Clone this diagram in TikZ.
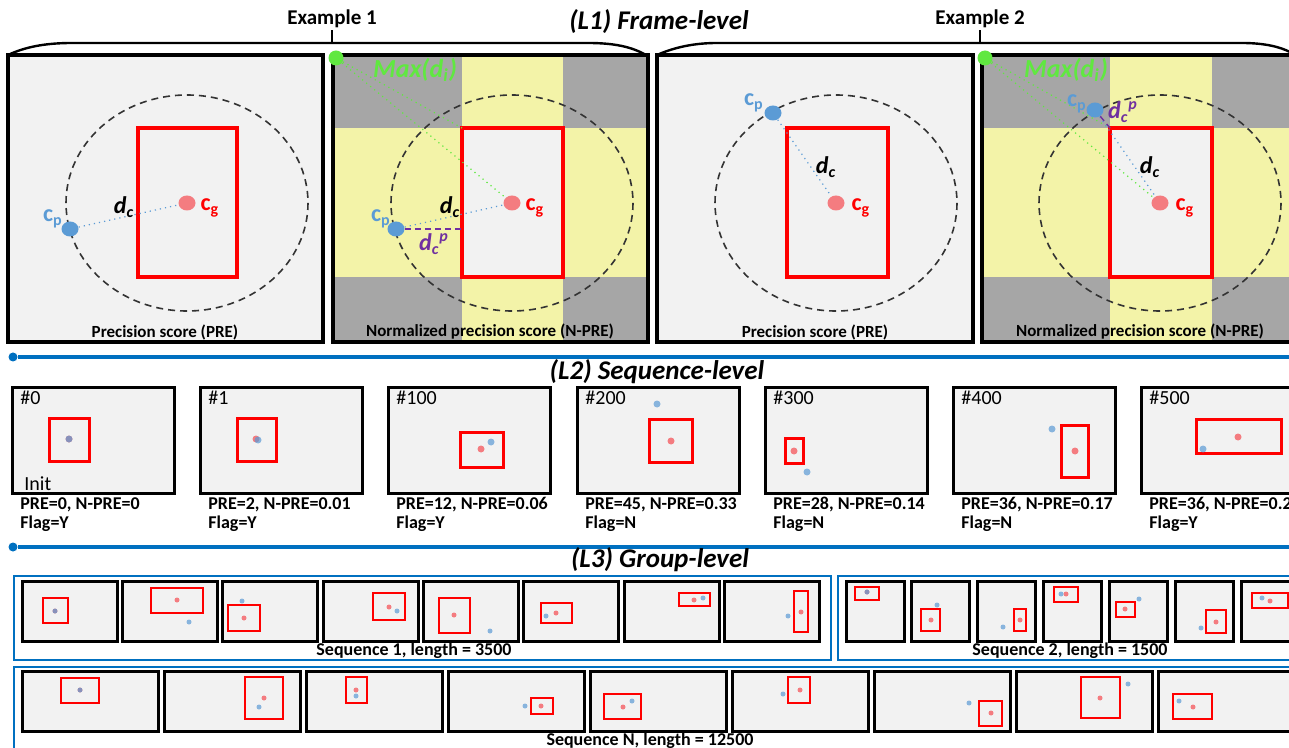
\documentclass[tikz,border=0pt]{standalone}
\usepackage{fontspec}
\setmainfont{Carlito}
\usetikzlibrary{shapes.geometric}

\definecolor{framebg}{RGB}{242,242,242}
\definecolor{cornergray}{RGB}{166,166,166}
\definecolor{bandyellow}{RGB}{243,243,168}
\definecolor{gtred}{RGB}{255,0,0}
\definecolor{cgpink}{RGB}{244,124,128}
\definecolor{cpblue}{RGB}{91,155,213}
\definecolor{maxgreen}{RGB}{96,232,64}
\definecolor{dpurple}{RGB}{112,48,160}
\definecolor{sepblue}{RGB}{0,112,192}

\begin{document}
\begin{tikzpicture}[x=0.5pt, y=-0.5pt,
    panel/.style={draw=black, line width=2pt},
    gtbox/.style={draw=gtred, line width=2pt},
    ring/.style={draw=black!80, line width=0.8pt, dash pattern=on 3.5pt off 2.5pt},
    cgdot/.style={ellipse, fill=cgpink, minimum width=8.5pt, minimum height=7.5pt, inner sep=0pt},
    cpdot/.style={ellipse, fill=cpblue, minimum width=8.5pt, minimum height=7.5pt, inner sep=0pt},
    maxdot/.style={circle, fill=maxgreen, minimum size=7.5pt, inner sep=0pt},
    cline/.style={draw=cpblue, line width=0.6pt, dotted},
    maxline/.style={draw=maxgreen, line width=0.6pt, dotted},
    dpline/.style={draw=dpurple, line width=0.7pt, densely dashed},
    brace/.style={draw=black, line width=1.2pt},
    sepline/.style={draw=sepblue, line width=1.6pt},
    sepdot/.style={circle, fill=sepblue, minimum size=4.5pt, inner sep=0pt},
    frame/.style={fill=framebg, draw=black, line width=1.5pt},
    gtsmall/.style={draw=gtred, line width=1.5pt},
    gtmini/.style={draw=gtred, line width=1.3pt},
    groupbox/.style={draw=sepblue, line width=1.2pt},
    title/.style={font=\fontsize{13.5}{15}\selectfont\bfseries\itshape, inner sep=1pt},
    exlabel/.style={font=\fontsize{10.5}{12}\selectfont\bfseries, inner sep=1pt},
    caption/.style={font=\fontsize{8.5}{10}\selectfont\bfseries, inner sep=1pt},
    score/.style={font=\fontsize{9}{10}\selectfont\bfseries, inner sep=1pt, anchor=west},
    idx/.style={font=\fontsize{10}{12}\selectfont, inner sep=1pt, anchor=west},
    seqlab/.style={font=\fontsize{9}{10}\selectfont\bfseries, inner sep=1pt},
    cglab/.style={font=\fontsize{12}{14}\selectfont\bfseries, text=gtred, inner sep=1pt},
    cplab/.style={font=\fontsize{12}{14}\selectfont\bfseries, text=cpblue, inner sep=1pt},
    dclab/.style={font=\fontsize{12}{14}\selectfont\bfseries\itshape, inner sep=1pt},
    dplab/.style={font=\fontsize{12}{14}\selectfont\bfseries\itshape, text=dpurple, inner sep=1pt},
    maxlab/.style={font=\fontsize{13}{15}\selectfont\bfseries\itshape, text=maxgreen, inner sep=1pt}
]
\useasboundingbox (0,0) rectangle (1289,748);

% ---- L1: frame-level ----
\node[title] (l1title) at (659,22) {(L1) Frame-level};
\node[exlabel] (ex1) at (332,19) {Example 1};
\node[exlabel] (ex2) at (980,19) {Example 2};
\coordinate (ex1foot) at (332,43);
\coordinate (ex2foot) at (980,43);
\draw[brace] (ex1) -- (ex1foot);
\draw[brace] (ex2) -- (ex2foot);
\draw[brace] (8,55) .. controls (25,47) and (45,43) .. (72,43) -- (588,43)
    .. controls (615,43) and (632,47) .. (646,55);
\draw[brace] (657,55) .. controls (675,47) and (695,43) .. (717,43) -- (1242,43)
    .. controls (1265,43) and (1280,47) .. (1290,52);

% example 1, PRE
\fill[framebg] (8,55) rectangle (323,342);
\draw[ring] (187,203) ellipse [x radius=121, y radius=108];
\draw[gtbox] (138,128) rectangle (237,277);
\draw[panel] (8,55) rectangle (323,342);
\node[cgdot] (cg1) at (187,203) {};
\node[cpdot] (cp1) at (70,229) {};
\draw[cline] (cp1) -- (cg1);
\node[cglab] (cg1lab) at (210,208) {c\textsubscript{g}};
\node[cplab] (cp1lab) at (53,219) {c\textsubscript{p}};
\node[dclab] (dc1) at (124,207) {d\textsubscript{c}};
\node[caption] (cap1) at (165,332) {Precision score (PRE)};

% example 1, N-PRE
\fill[cornergray] (333,55) rectangle (648,342);
\fill[bandyellow] (462,55) rectangle (563,342);
\fill[bandyellow] (333,128) rectangle (648,277);
\fill[framebg] (462,128) rectangle (563,277);
\draw[ring] (512,203) ellipse [x radius=121, y radius=108];
\draw[gtbox] (462,128) rectangle (563,277);
\draw[panel] (333,55) rectangle (648,342);
\coordinate (tl2) at (462,128);
\coordinate (lf2) at (462,229);
\node[cgdot] (cg2) at (512,203) {};
\node[cpdot] (cp2) at (396,229) {};
\node[maxdot] (mx2) at (336,58) {};
\draw[maxline] (mx2) -- (tl2);
\draw[maxline] (mx2) -- (cg2);
\draw[cline] (cp2) -- (cg2);
\draw[dpline] (cp2) -- (lf2);
\node[maxlab] (max2) at (415,70) {Max(d\textsubscript{i})};
\node[cglab] (cg2lab) at (535,208) {c\textsubscript{g}};
\node[cplab] (cp2lab) at (381,219) {c\textsubscript{p}};
\node[dclab] (dc2) at (450,207) {d\textsubscript{c}};
\node[dplab] (dp2) at (434,244) {d\textsubscript{c}\textsuperscript{p}};
\node[caption] (cap2) at (490,332) {Normalized precision score (N-PRE)};

% example 2, PRE
\fill[framebg] (657,55) rectangle (973,342);
\draw[ring] (836,203) ellipse [x radius=121, y radius=108];
\draw[gtbox] (787,128) rectangle (888,277);
\draw[panel] (657,55) rectangle (973,342);
\node[cgdot] (cg3) at (836,203) {};
\node[cpdot] (cp3) at (773,113) {};
\draw[cline] (cp3) -- (cg3);
\node[cglab] (cg3lab) at (861,208) {c\textsubscript{g}};
\node[cplab] (cp3lab) at (754,103) {c\textsubscript{p}};
\node[dclab] (dc3) at (826,167) {d\textsubscript{c}};
\node[caption] (cap3) at (815,332) {Precision score (PRE)};

% example 2, N-PRE
\fill[cornergray] (982,55) rectangle (1297,342);
\fill[bandyellow] (1110,55) rectangle (1212,342);
\fill[bandyellow] (982,128) rectangle (1297,277);
\fill[framebg] (1110,128) rectangle (1212,277);
\draw[ring] (1160,203) ellipse [x radius=121, y radius=108];
\draw[gtbox] (1110,128) rectangle (1212,277);
\draw[panel] (982,55) rectangle (1297,342);
\coordinate (tl4) at (1110,128);
\node[cgdot] (cg4) at (1160,203) {};
\node[cpdot] (cp4) at (1095,110) {};
\node[maxdot] (mx4) at (985,58) {};
\draw[maxline] (mx4) -- (tl4);
\draw[maxline] (mx4) -- (cg4);
\draw[cline] (cp4) -- (cg4);
\draw[dpline] (cp4) -- (tl4);
\node[maxlab] (max4) at (1066,70) {Max(d\textsubscript{i})};
\node[cglab] (cg4lab) at (1185,208) {c\textsubscript{g}};
\node[cplab] (cp4lab) at (1077,104) {c\textsubscript{p}};
\node[dclab] (dc4) at (1150,167) {d\textsubscript{c}};
\node[dplab] (dp4) at (1123,112) {d\textsubscript{c}\textsuperscript{p}};
\node[caption] (cap4) at (1140,332) {Normalized precision score (N-PRE)};

% separators
\node[sepdot] (sep1) at (13,357) {};
\coordinate (sep1end) at (1289,357);
\draw[sepline] (sep1) -- (sep1end);
\node[sepdot] (sep2) at (13,547) {};
\coordinate (sep2end) at (1289,547);
\draw[sepline] (sep2) -- (sep2end);

% ---- L2: sequence-level ----
\node[title] (l2title) at (657,372) {(L2) Sequence-level};
\foreach \fx/\lab/\ax/\ay/\bx/\by/\gx/\gy/\px/\py/\pr/\npr/\flag in {
    12/0/49/418/89/461/69/439/69/439/0/0/Y,
    200/1/237/418/276/461/256/439/258/440/2/0.01/Y,
    388/100/460/432/503/467/481/449/491/442/12/0.06/Y,
    577/200/649/419/692/462/671/441/657/404/45/0.33/N,
    765/300/785/438/803/463/794/451/807/472/28/0.14/N,
    953/400/1061/425/1088/477/1075/451/1052/429/36/0.17/N,
    1141/500/1196/419/1281/453/1238/437/1203/449/36/0.2/Y}
{
    \draw[frame] (\fx,387) rectangle ++(162,106);
    \draw[gtsmall] (\ax,\ay) rectangle (\bx,\by);
    \fill[cgpink] (\gx,\gy) circle (3.5);
    \fill[cpblue, fill opacity=0.7] (\px,\py) circle (3.5);
    \node[idx] (idx\lab) at (\fx+6,398) {\#\lab};
    \node[score] (pre\lab) at (\fx+6,505) {PRE=\pr, N-PRE=\npr};
    \node[score] (flag\lab) at (\fx+6,524) {Flag=\flag};
}
\node[idx] (init) at (22,484) {Init};

% ---- L3: group-level ----
\node[title] (l3title) at (660,560) {(L3) Group-level};
\draw[groupbox] (14,576) rectangle (831,660);
\draw[groupbox] (838,576) rectangle (1296,660);
\draw[groupbox] (14,667) rectangle (1296,760);

% sequence 1
\foreach \fx/\ax/\ay/\bx/\by/\gx/\gy/\px/\py in {
    22/43/598/68/623/55/611/55/611,
    122/151/588/203/613/177/600/189/622,
    222/228/605/260/631/244/618/242/601,
    323/373/593/405/620/389/607/397/611,
    423/439/598/470/633/454/615/490/631,
    523/541/603/572/623/556/613/546/616,
    624/679/593/710/606/694/600/703/598,
    724/794/591/808/632/801/612/788/616}
{
    \draw[frame] (\fx,581) rectangle ++(95,60);
    \draw[gtmini] (\ax,\ay) rectangle (\bx,\by);
    \fill[cgpink] (\gx,\gy) circle (2.5);
    \fill[cpblue, fill opacity=0.7] (\px,\py) circle (2.5);
}
\node[seqlab] (seq1lab) at (414,651) {Sequence 1, length = 3500};

% sequence 2
\foreach \fx/\ax/\ay/\bx/\by/\gx/\gy/\px/\py in {
    846/855/587/879/600/867/592/867/592,
    911/921/609/940/631/931/620/937/605,
    977/1014/609/1026/631/1020/620/1003/627,
    1043/1054/587/1078/602/1066/594/1061/594,
    1109/1116/602/1135/617/1125/609/1139/599,
    1175/1206/610/1226/633/1216/622/1201/628,
    1241/1252/593/1288/608/1270/601/1262/598}
{
    \draw[frame] (\fx,581) rectangle ++(58,60);
    \draw[gtmini] (\ax,\ay) rectangle (\bx,\by);
    \fill[cgpink] (\gx,\gy) circle (2.5);
    \fill[cpblue, fill opacity=0.7] (\px,\py) circle (2.5);
}
\node[seqlab] (seq2lab) at (1070,651) {Sequence 2, length = 1500};

% sequence N
\foreach \fx/\ax/\ay/\bx/\by/\gx/\gy/\px/\py in {
    22/61/678/99/703/80/690/80/690,
    164/245/677/283/719/264/698/259/707,
    306/346/677/367/703/356/690/356/696,
    448/531/698/553/714/541/706/525/706,
    590/604/694/641/719/623/707/632/701,
    732/788/677/810/703/800/690/783/694,
    874/979/701/1002/726/991/713/969/703,
    1016/1081/677/1120/718/1100/698/1128/684,
    1158/1173/694/1212/719/1193/707/1179/701}
{
    \draw[frame] (\fx,671) rectangle ++(136,60);
    \draw[gtmini] (\ax,\ay) rectangle (\bx,\by);
    \fill[cgpink] (\gx,\gy) circle (2.5);
    \fill[cpblue, fill opacity=0.7] (\px,\py) circle (2.5);
}
\node[seqlab] (seqNlab) at (650,741) {Sequence N, length = 12500};
\end{tikzpicture}
\end{document}
